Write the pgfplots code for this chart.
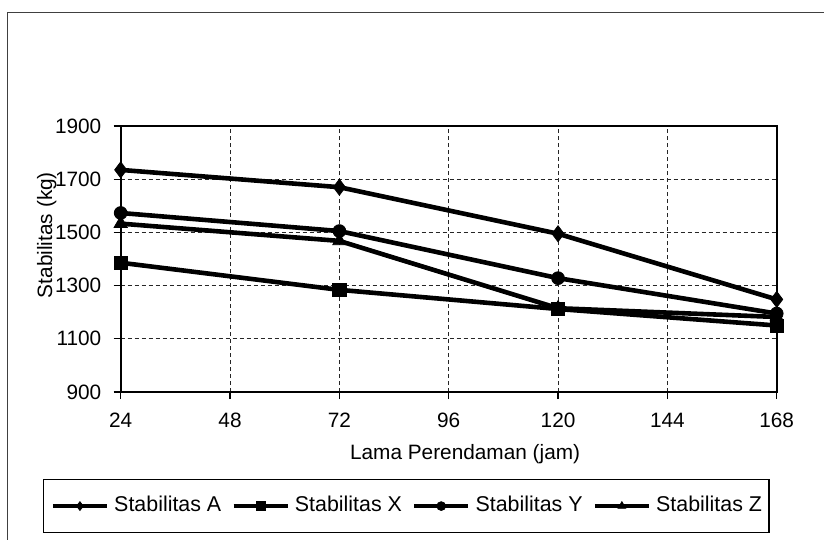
\documentclass[border=0pt]{standalone}
\usepackage{fontspec}
\setmainfont{Liberation Sans}
\usepackage{pgfplots}
\pgfplotsset{compat=1.18}
\begin{document}
\fontsize{10.4}{12}\selectfont
\begin{tikzpicture}[x=1pt,y=1pt]
\useasboundingbox (0pt,0pt) rectangle (412pt,-270pt);
\draw[line width=0.5pt, black!75] (3.6pt,-270pt) -- (3.6pt,-6.35pt) -- (412pt,-6.35pt);
\begin{axis}[
  at={(60.35pt,-196pt)}, anchor=south west,
  width=328pt, height=133pt, scale only axis,
  xmin=24, xmax=168, ymin=900, ymax=1900,
  xtick={24,48,72,96,120,144,168}, ytick={900,1100,1300,1500,1700,1900},
  grid=major,
  major grid style={black!85, line width=0.5pt, dash pattern=on 2pt off 1.5pt},
  tick align=outside, major tick length=3.5pt,
  tick style={black, line width=0.6pt},
  xtick pos=bottom, ytick pos=left,
  axis line style={line width=0.9pt},
  /pgf/number format/assume math mode=true,
  /pgf/number format/1000 sep={},
  ticklabel style={font=\fontsize{10.4}{12}\selectfont},
  yticklabel style={anchor=east, inner sep=0pt, xshift=-6pt},
  xticklabel style={anchor=north, inner sep=0pt, yshift=-7pt},
  xlabel={Lama Perendaman (jam)},
  ylabel={Stabilitas (kg)},
  xlabel style={at={(axis description cs:0.525,-0.2556)}, anchor=base, inner sep=0pt},
  ylabel style={at={(axis description cs:-0.1047,0.590)}, anchor=base, inner sep=0pt},
  legend columns=4,
  legend cell align=left,
  legend style={at={(axis description cs:-0.1184,-0.327)}, anchor=north west,
    draw=black, line width=0.6pt, inner xsep=3.5pt, inner ysep=8.5pt,
    font=\fontsize{10.7}{12}\selectfont,
    nodes={inner sep=0pt, text height=7.5pt, text depth=2pt},
    /tikz/every odd column/.append style={column sep=2.5pt},
    /tikz/every even column/.append style={column sep=5pt}},
  legend image code/.code={\draw[#1, mark size=2.2pt, mark repeat=2, mark phase=2]
     plot coordinates {(0pt,0pt) (13.5pt,0pt) (27pt,0pt)};},
]
\addplot[black, line width=2.3pt, mark=diamond*, mark size=4pt, mark options={solid, fill=black, line width=0.4pt}] coordinates {(24,1735) (72,1670) (120,1495) (168,1248)};
\addlegendentry{Stabilitas A}
\addplot[black, line width=2.3pt, mark=square*, mark size=3.3pt, mark options={solid, fill=black, line width=0.4pt}] coordinates {(24,1386) (72,1284) (120,1212) (168,1150)};
\addlegendentry{Stabilitas X}
\addplot[black, line width=2.3pt, mark=*, mark size=3.2pt, mark options={solid, fill=black, line width=0.4pt}] coordinates {(24,1573) (72,1505) (120,1328) (168,1195)};
\addlegendentry{Stabilitas Y}
\addplot[black, line width=2.3pt, mark=triangle*, mark size=3.8pt, mark options={solid, fill=black, line width=0.4pt}] coordinates {(24,1533) (72,1468) (120,1215) (168,1182)};
\addlegendentry{Stabilitas Z}
\end{axis}
\end{tikzpicture}
\end{document}
